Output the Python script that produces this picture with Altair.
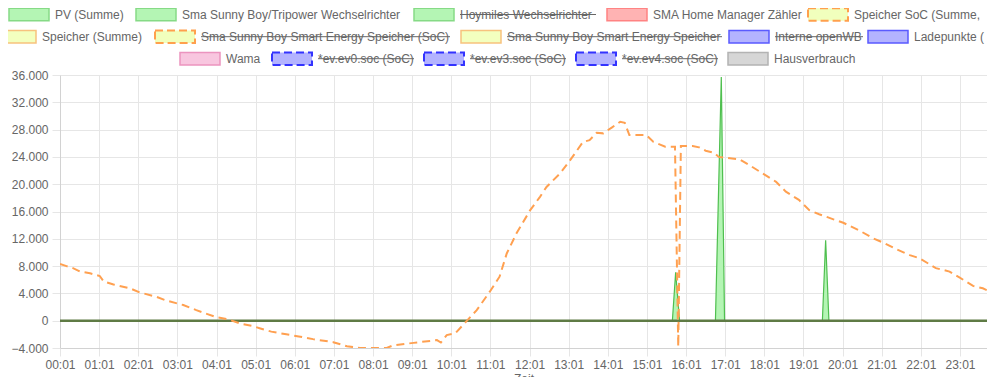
import altair as alt
import pandas as pd

# ---------------- data ----------------
soc_times = ["00:01", "00:11", "00:21", "00:32", "00:47", "01:02", "01:08", "01:23", "01:48", "02:03",
             "02:29", "02:44", "03:10", "03:30", "03:46", "04:01", "04:17", "04:37", "04:57", "05:07",
             "05:25", "05:48", "06:07", "06:29", "07:00", "07:21", "07:41", "08:22", "08:32", "09:03",
             "09:39", "09:45", "09:54", "10:07", "10:24", "10:40", "11:00", "11:15", "11:26", "11:41",
             "12:02", "12:17", "12:27", "12:48", "13:03", "13:23", "13:33", "13:44", "13:54", "14:07",
             "14:20", "14:27", "14:34", "15:00", "15:11", "15:29", "15:44", "15:49", "15:53", "16:11",
             "16:21", "16:31", "16:44", "16:51", "17:23", "17:38", "17:58", "18:19", "18:34", "18:54",
             "19:10", "19:25", "19:47", "20:02", "20:28", "20:48", "21:03", "21:24", "21:44", "21:59",
             "22:24", "22:45", "23:00", "23:21", "23:36", "23:55"]
soc_values = [8300, 8000, 7700, 7200, 6950, 6550, 5750, 5300, 4750, 4150,
              3500, 2950, 2300, 1550, 1000, 500, 250, -400, -800, -1100,
              -1600, -2000, -2300, -2700, -3150, -3750, -4000, -4000, -3600, -3250,
              -2850, -3200, -2100, -1850, -100, 1550, 4250, 6450, 9850, 12800,
              16200, 18150, 19600, 21600, 23500, 26200, 26450, 27550, 27450, 28300,
              29150, 29000, 27200, 27200, 26200, 25500, 25500, -3800, 25600, 25600,
              25400, 24900, 24600, 24000, 23650, 22800, 21600, 20350, 18900, 17700,
              16200, 15600, 14850, 14350, 13150, 12050, 11450, 10450, 9600, 9150,
              7700, 7200, 6350, 5100, 4750, 3900]

pv_times = ["00:01", "15:40", "15:45", "15:51", "16:46", "16:55", "17:00", "19:30", "19:35", "19:40", "23:55"]
pv_values = [0, 0, 7100, 0, 0, 35700, 0, 0, 11800, 0, 0]

zero_times = ["00:01", "23:55"]
zero_values = [0, 0]

y_ticks = [-4000, 0, 4000, 8000, 12000, 16000, 20000, 24000, 28000, 32000, 36000]
x_tick_hours = list(range(24))

legend_labels = ["PV (Summe)", "Sma Sunny Boy/Tripower Wechselrichter", "Hoymiles Wechselrichter",
                 "SMA Home Manager Zähler", "Speicher SoC (Summe,",
                 "Speicher (Summe)", "Sma Sunny Boy Smart Energy Speicher (SoC)",
                 "Sma Sunny Boy Smart Energy Speicher", "Interne openWB", "Ladepunkte (",
                 "Wama", "*ev.ev0.soc (SoC)", "*ev.ev3.soc (SoC)", "*ev.ev4.soc (SoC)", "Hausverbrauch"]
legend_hidden = [False, False, True, False, False,
                 False, True, True, True, False,
                 False, True, True, True, False]
legend_style = ["green", "green", "green", "red", "socdash",
                "storage", "socdash", "storage", "blue", "blue",
                "pink", "bluedash", "bluedash", "bluedash", "grey"]

# ---------------- layout (pixels, page coordinates) ----------------
legend_row = [0, 0, 0, 0, 0, 1, 1, 1, 1, 1, 2, 2, 2, 2, 2]
legend_box_left = [9, 136, 414, 607, 808, -4, 155, 461, 729, 868, 180, 272, 424, 576, 728]
legend_text_end = [0, 0, 596, 0, 0, 0, 450, 722, 863, 0, 0, 414, 566, 718, 0]
row_center = [14.5, 36.7, 58.7]
plot_left, plot_top = 60, 75

styles = {
    "green": ("#b4f5b4", "#86da86", False),
    "red": ("#ffb3b3", "#ff8383", False),
    "socdash": ("#f1ffbd", "#ffa04d", True),
    "storage": ("#f3ffbf", "#f7c27e", False),
    "blue": ("#b3b3ff", "#5a5aff", False),
    "bluedash": ("#b3b3ff", "#3333ff", True),
    "pink": ("#f8c6df", "#eb94bf", False),
    "grey": ("#d6d6d6", "#b3b3b3", False),
}


def to_min(t):
    h, m = t.split(":")
    return int(h) * 60 + int(m)


soc_df = pd.DataFrame({"t": [to_min(t) for t in soc_times], "v": soc_values})
pv_df = pd.DataFrame({"t": [to_min(t) for t in pv_times], "v": pv_values})
zero_df = pd.DataFrame({"t": [to_min(t) for t in zero_times], "v": zero_values})

rows = []
for i, lab in enumerate(legend_labels):
    fill, stroke, dashed = styles[legend_style[i]]
    bx = legend_box_left[i] - plot_left
    cy = row_center[legend_row[i]] - plot_top
    tx = bx + 46
    rows.append({
        "label": lab, "bx": bx, "bx2": bx + 40, "by": cy - 6.3, "by2": cy + 6.3,
        "tx": tx, "ty": cy, "tx2": legend_text_end[i] - plot_left,
        "fill": fill, "stroke": stroke, "dashed": dashed, "hidden": legend_hidden[i],
    })
leg_df = pd.DataFrame(rows)

FONT = "Liberation Sans"
PLOT_W, PLOT_H = 927, 273
px_per_min = 39.13 / 60
x_domain = [1, 1 + PLOT_W / px_per_min]
y_domain = [-4000, 36000]

x_enc = alt.X("t:Q", scale=alt.Scale(domain=x_domain, nice=False, zero=False),
              axis=alt.Axis(values=[1 + 60 * h for h in x_tick_hours],
                            labelExpr="(floor(datum.value/60) < 10 ? '0' : '') + floor(datum.value/60) + ':01'",
                            title="Zeit", titleY=25, titleBaseline="top", titleFontWeight="normal",
                            titleColor="#666", titleFontSize=12, titleFont=FONT,
                            grid=True, gridColor="#e6e6e6", tickColor="#e6e6e6", tickSize=8,
                            domainColor="#d2d2d2", labelColor="#666", labelFontSize=12, labelFont=FONT,
                            labelPadding=3, labelFlush=False, labelOverlap=False))
y_enc = alt.Y("v:Q", scale=alt.Scale(domain=y_domain, nice=False),
              axis=alt.Axis(values=y_ticks,
                            labelExpr="replace(format(datum.value, ','), ',', '.')",
                            title=None, grid=True, gridColor="#e6e6e6", tickColor="#e6e6e6",
                            tickSize=8, domainColor="#d2d2d2", labelColor="#666", labelFontSize=12,
                            labelFont=FONT, labelPadding=4, labelFlush=False, labelOverlap=False))

area = alt.Chart(pv_df).mark_area(fill="#b4f5b4", stroke="#4fbf4f", strokeWidth=1.2,
                                  interpolate="linear", clip=True).encode(x=x_enc, y=y_enc)
zero_line = alt.Chart(zero_df).mark_line(color="#5f7b45", strokeWidth=2.5, clip=True).encode(
    x=x_enc, y=y_enc)
soc_line = alt.Chart(soc_df).mark_line(color="#ffa050", strokeWidth=2, strokeDash=[8, 5],
                                       clip=True).encode(x=x_enc, y=y_enc)

main = alt.layer(area, zero_line, soc_line)

base = alt.Chart(leg_df)
px = lambda f: alt.X(f, type="quantitative", scale=None, axis=None)
py = lambda f: alt.Y(f, type="quantitative", scale=None, axis=None)

box_solid = base.transform_filter("!datum.dashed").mark_rect(strokeWidth=1.5).encode(
    x=px("bx"), x2="bx2", y=py("by"), y2="by2",
    fill=alt.Fill("fill:N", scale=None, legend=None),
    stroke=alt.Stroke("stroke:N", scale=None, legend=None))
box_dash = base.transform_filter("datum.dashed").mark_rect(strokeWidth=2, strokeDash=[8, 4]).encode(
    x=px("bx"), x2="bx2", y=py("by"), y2="by2",
    fill=alt.Fill("fill:N", scale=None, legend=None),
    stroke=alt.Stroke("stroke:N", scale=None, legend=None))
texts = base.mark_text(align="left", baseline="middle", fontSize=12, font=FONT, color="#666").encode(
    x=px("tx"), y=py("ty"), text="label:N")
strikes = base.transform_filter("datum.hidden").mark_rule(color="#666", strokeWidth=1).encode(
    x=px("tx"), x2="tx2", y=py("ty"))

legend = alt.layer(box_solid, box_dash, texts, strikes)

chart = alt.layer(main, legend).resolve_scale(x="independent", y="independent").properties(
    width=PLOT_W, height=PLOT_H,
    autosize=alt.AutoSizeParams(type="none"),
    padding={"left": 52, "top": 67, "right": 0, "bottom": 29},
).configure_view(stroke=None)

chart.save("out.html", embed_options={"renderer": "svg", "actions": False})
